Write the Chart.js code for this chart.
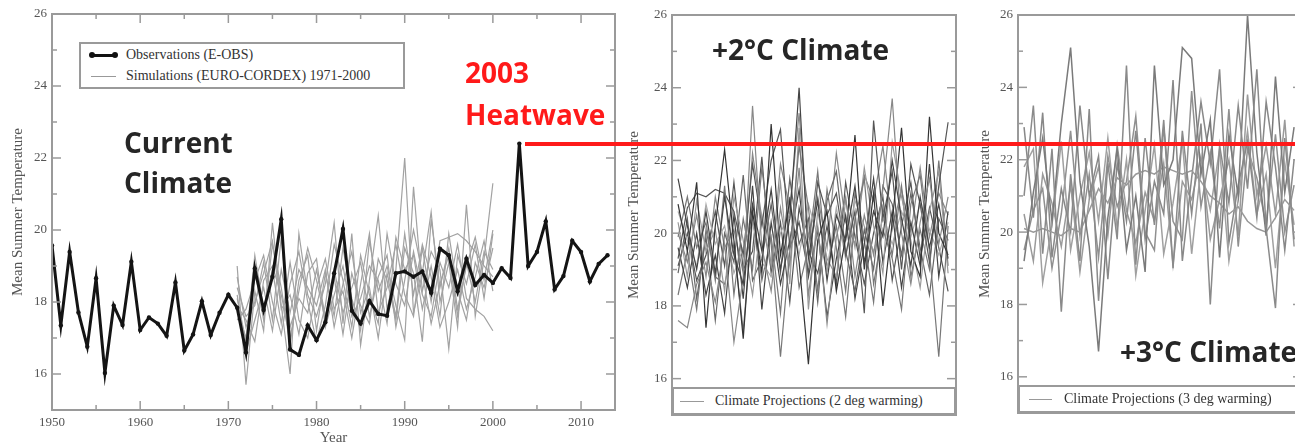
<!DOCTYPE html>
<html lang="en">
<head>
<meta charset="UTF-8">
<title>Mean Summer Temperature - current, +2°C and +3°C climate</title>
<script src="https://cdn.jsdelivr.net/npm/chart.js"></script>
<style>
    html, body { margin: 0; padding: 0; background: #fff; }
    body { width: 1295px; height: 445px; position: relative; overflow: hidden; }
    .panel { position: absolute; top: 0; }
    .note {
        position: absolute;
        font-family: "Open Sans", sans-serif;
        font-weight: 700;
        font-size: 28px;
        line-height: 28px;
        color: #262626;
        white-space: nowrap;
        z-index: 5;
    }
    .note.red { color: #ff1a1a; }
    .legend {
        position: absolute;
        box-sizing: border-box;
        border: 2px solid #9a9a9a;
        background: #fff;
        font-family: "Liberation Serif", serif;
        font-size: 14px;
        color: #333;
        white-space: nowrap;
        overflow: hidden;
        z-index: 4;
    }
    .legend .row { position: absolute; left: 0; height: 16px; line-height: 16px; }
    .legend .txt { position: absolute; top: 0; }
    .legend .sample { position: absolute; top: 50%; }
    .obs-sample { height: 3px; margin-top: -1.5px; background: #111; }
    .obs-sample::before, .obs-sample::after {
        content: ""; position: absolute; top: -1.5px; width: 6px; height: 6px;
        border-radius: 50%; background: #111;
    }
    .obs-sample::before { left: -2px; }
    .obs-sample::after { right: -2px; }
    .sim-sample { height: 1px; background: #999; }
    #heatLine { position: absolute; height: 4px; background: #ff1a1a; z-index: 6; }
</style>
</head>
<body>
    <!-- Current climate -->
    <div class="panel" style="left:0;"><canvas id="obsChart" width="640" height="445"></canvas></div>
    <!-- +2 deg -->
    <div class="panel" style="left:620px;"><canvas id="plus2Chart" width="345" height="445"></canvas></div>
    <!-- +3 deg -->
    <div class="panel" style="left:966px;"><canvas id="plus3Chart" width="345" height="445"></canvas></div>

    <div class="legend" style="left:79px; top:42px; width:326px; height:47px;">
        <div class="row" style="top:3px; width:100%;">
            <span class="sample obs-sample" style="left:10px; width:25px;"></span>
            <span class="txt" style="left:45px;">Observations (E-OBS)</span>
        </div>
        <div class="row" style="top:24px; width:100%;">
            <span class="sample sim-sample" style="left:10px; width:25px;"></span>
            <span class="txt" style="left:45px;">Simulations (EURO-CORDEX) 1971-2000</span>
        </div>
    </div>
    <div class="legend" style="left:672px; top:387px; width:284px; height:28px;">
        <div class="row" style="top:4px; width:100%;">
            <span class="sample sim-sample" style="left:6px; width:24px;"></span>
            <span class="txt" style="left:41px;">Climate Projections (2 deg warming)</span>
        </div>
    </div>
    <div class="legend" style="left:1018px; top:385px; width:300px; height:28px;">
        <div class="row" style="top:4px; width:100%;">
            <span class="sample sim-sample" style="left:9px; width:23px;"></span>
            <span class="txt" style="left:44px;">Climate Projections (3 deg warming)</span>
        </div>
    </div>

    <div class="note" style="left:124px; top:128px;">Current</div>
    <div class="note" style="left:124px; top:168px;">Climate</div>
    <div class="note red" style="left:465px; top:58px;">2003</div>
    <div class="note red" style="left:465px; top:100px;">Heatwave</div>
    <div class="note" style="left:712px; top:35px;">+2°C Climate</div>
    <div class="note" style="left:1120px; top:337px;">+3°C Climate</div>
    <div id="heatLine"></div>

    <script>
        // ---- data ----
        const obsStart = 1950;
        const obsTemp = [19.57, 17.35, 19.39, 17.71, 16.76, 18.66, 16.03, 17.9, 17.36, 19.12,
                         17.22, 17.57, 17.4, 17.06, 18.54, 16.65, 17.1, 18.02, 17.08, 17.7,
                         18.2, 17.84, 16.6, 18.93, 17.78, 18.7, 20.3, 16.68, 16.53, 17.35,
                         16.94, 17.44, 18.8, 20.03, 17.76, 17.4, 18.03, 17.67, 17.62, 18.8,
                         18.85, 18.7, 18.85, 18.26, 19.48, 19.3, 18.3, 19.2, 18.47, 18.75,
                         18.53, 18.94, 18.67, 22.4, 19.0, 19.39, 20.24, 18.35, 18.72, 19.7,
                         19.39, 18.57, 19.06, 19.3];

        // EURO-CORDEX simulations 1971-2000
        const simStart = 1971;
        const sim1 = [19.0, 15.7, 18.3, 17.2, 20.2, 17.9, 16.0, 19.9, 18.2, 17.6, 18.5, 20.2, 17.4, 19.9, 16.8, 18.6, 20.4, 17.8, 18.9, 22.0, 17.7, 18.8, 20.5, 18.0, 19.1, 17.3, 20.7, 17.6, 19.2, 21.3];
        const sim2 = [17.8, 17.0, 18.9, 17.5, 19.6, 18.4, 16.8, 18.6, 19.3, 17.2, 18.8, 17.6, 19.5, 18.1, 17.2, 19.7, 18.3, 19.0, 17.9, 16.95, 21.2, 18.3, 19.4, 18.9, 16.7, 19.3, 18.5, 19.6, 18.1, 19.9];
        const sim3 = [18.4, 17.6, 17.9, 19.1, 17.5, 19.8, 17.3, 18.1, 17.7, 18.9, 17.6, 18.7, 17.1, 18.8, 17.9, 17.4, 19.2, 18.6, 17.5, 19.5, 18.8, 16.9, 20.3, 18.4, 19.5, 17.8, 19.0, 19.8, 18.6, 20.0];
        const sim4 = [18.1, 16.9, 19.3, 17.8, 18.9, 17.4, 19.1, 17.5, 17.0, 18.4, 19.2, 17.8, 18.3, 17.0, 18.5, 19.9, 17.7, 18.4, 19.6, 18.2, 17.6, 19.5, 18.0, 19.7, 19.8, 19.9, 19.7, 19.4, 19.0, 18.7];
        const sim5 = [17.5, 17.8, 18.6, 19.3, 18.0, 17.1, 18.5, 19.4, 18.0, 16.9, 17.9, 19.6, 18.6, 17.3, 19.3, 18.2, 17.4, 19.9, 18.5, 17.9, 19.4, 18.2, 17.6, 19.1, 18.4, 19.6, 18.1, 17.8, 17.6, 17.2];
        const sim6 = [18.7, 17.3, 18.0, 18.8, 19.7, 17.8, 18.2, 17.1, 18.8, 19.2, 17.3, 18.2, 19.0, 17.6, 18.1, 19.0, 18.6, 17.4, 19.8, 18.9, 19.3, 17.8, 19.0, 17.6, 19.9, 18.3, 17.5, 19.1, 18.4, 19.5];
        const sim7 = [18.2, 16.6, 17.5, 18.4, 17.2, 18.9, 17.7, 18.9, 18.4, 17.9, 18.9, 17.3, 18.5, 19.4, 17.7, 18.4, 17.0, 18.8, 17.6, 19.9, 18.2, 19.6, 18.7, 17.3, 18.0, 18.9, 17.8, 18.7, 19.7, 18.3];
        const sim8 = [17.9, 17.5, 16.9, 18.6, 19.0, 18.2, 17.0, 18.3, 19.5, 18.6, 17.5, 18.9, 17.7, 18.4, 19.1, 17.6, 18.7, 19.3, 17.3, 18.6, 20.0, 18.8, 17.4, 18.5, 19.3, 17.6, 19.1, 18.0, 19.4, 18.9];
        const simSeries = [sim1, sim2, sim3, sim4, sim5, sim6, sim7, sim8];

        // Climate projections, 2 deg warming (30 model years each)
        const p2a = [21.5, 20.2, 19.0, 20.6, 18.9, 21.0, 19.4, 18.6, 20.8, 19.5, 21.2, 19.0, 20.4, 24.0, 19.3, 20.9, 18.7, 20.5, 19.8, 21.3, 19.2, 20.6, 19.9, 22.0, 20.4, 19.1, 21.0, 19.6, 20.8, 19.3];
        const p2b = [17.6, 17.4, 18.6, 19.2, 18.1, 19.7, 17.0, 18.8, 23.5, 19.6, 18.4, 20.7, 19.1, 21.8, 18.3, 20.2, 17.5, 19.9, 21.0, 18.8, 20.5, 19.4, 21.2, 23.7, 20.0, 18.6, 20.3, 21.5, 19.7, 21.0];
        const p2c = [20.8, 19.5, 21.4, 17.4, 20.2, 22.3, 19.8, 17.1, 20.6, 18.9, 23.0, 19.4, 20.9, 19.2, 16.4, 19.8, 20.6, 18.4, 19.9, 22.7, 19.0, 21.1, 18.0, 20.3, 22.9, 19.5, 18.8, 23.2, 20.0, 19.4];
        const p2d = [19.9, 21.0, 19.6, 20.3, 18.7, 21.3, 18.3, 20.4, 19.0, 21.8, 19.7, 16.6, 19.5, 22.4, 20.7, 18.4, 21.2, 19.6, 17.7, 20.4, 21.5, 18.6, 20.1, 19.3, 17.9, 20.8, 21.6, 19.5, 16.6, 20.2];
        const p2e = [19.3, 20.7, 21.1, 21.0, 21.2, 21.1, 20.6, 19.4, 21.9, 20.2, 22.0, 22.85, 19.6, 20.3, 18.9, 21.4, 20.5, 21.1, 19.4, 20.6, 17.8, 23.1, 20.4, 21.7, 19.0, 21.9, 20.8, 19.2, 21.3, 23.05];
        const p2f = [20.3, 18.8, 20.9, 19.5, 20.1, 18.4, 21.0, 19.8, 18.3, 20.5, 19.1, 21.4, 18.6, 22.9, 17.9, 20.6, 19.3, 18.8, 20.9, 19.6, 21.8, 20.2, 18.9, 22.5, 21.0, 19.8, 18.5, 20.6, 21.7, 18.9];
        const p2g = [18.9, 20.4, 18.2, 19.9, 17.6, 20.0, 19.2, 21.6, 18.7, 19.3, 20.8, 18.9, 21.5, 19.7, 20.4, 18.1, 20.9, 21.7, 19.5, 18.4, 20.1, 19.0, 21.3, 20.8, 19.4, 21.1, 19.6, 18.3, 20.4, 19.8];
        const p2h = [19.6, 18.5, 20.0, 18.3, 19.4, 17.8, 20.5, 18.2, 21.3, 17.9, 20.3, 18.6, 19.8, 21.2, 18.8, 20.1, 17.7, 19.3, 20.5, 18.2, 19.7, 21.5, 19.2, 20.6, 18.5, 20.3, 19.1, 21.9, 18.8, 20.6];
        const p2i = [20.6, 19.8, 19.1, 20.8, 19.7, 20.2, 18.9, 19.6, 20.3, 19.2, 18.8, 20.0, 20.6, 19.4, 20.8, 19.9, 19.0, 20.7, 19.3, 20.9, 20.2, 19.5, 20.4, 19.7, 20.6, 19.9, 20.8, 20.1, 19.4, 20.3];
        const p2j = [18.3, 19.5, 17.9, 20.1, 18.8, 18.6, 19.7, 17.3, 20.4, 18.7, 19.9, 17.8, 21.0, 18.5, 19.6, 21.7, 19.0, 20.2, 18.4, 21.1, 19.8, 18.1, 20.7, 19.4, 21.3, 18.8, 20.1, 19.0, 22.0, 19.1];
        const p2k = [19.1, 20.0, 18.7, 19.4, 20.6, 19.1, 21.4, 19.0, 19.5, 22.1, 18.9, 20.3, 18.1, 20.7, 19.5, 18.9, 20.2, 18.6, 21.4, 19.9, 18.6, 20.0, 21.0, 18.7, 20.2, 21.4, 19.3, 20.7, 19.6, 18.4];
        const p2l = [20.0, 19.2, 20.5, 18.8, 21.0, 19.6, 20.1, 18.9, 22.2, 20.4, 19.0, 21.9, 20.7, 23.3, 19.9, 21.0, 19.6, 22.2, 20.3, 19.7, 21.6, 20.9, 22.4, 20.1, 21.2, 20.0, 21.8, 19.9, 21.1, 20.5];
        const plus2Series = [p2a, p2b, p2c, p2d, p2e, p2f, p2g, p2h, p2i, p2j, p2k, p2l];

        // Climate projections, 3 deg warming
        const p3a = [21.0, 23.5, 19.4, 22.3, 17.8, 21.6, 19.2, 23.4, 18.1, 21.9, 19.8, 24.6, 19.1, 22.6, 20.2, 23.1, 19.0, 22.8, 20.5, 23.0, 18.0, 22.4, 20.8, 23.5, 21.2, 24.5, 20.1, 17.9, 22.6, 19.8];
        const p3b = [19.2, 21.1, 22.6, 20.3, 23.0, 25.1, 21.4, 19.6, 16.7, 20.4, 22.3, 19.5, 21.0, 18.9, 24.6, 21.3, 22.0, 25.1, 24.8, 21.6, 23.1, 19.3, 22.7, 21.0, 26.0, 22.2, 19.9, 24.3, 21.1, 22.9];
        const p3c = [20.1, 20.0, 20.1, 20.0, 19.9, 20.1, 20.0, 20.6, 21.2, 20.8, 21.5, 21.3, 21.6, 21.7, 21.6, 21.8, 21.7, 21.6, 21.7, 21.4, 21.0, 20.8, 20.5, 20.7, 20.3, 20.1, 20.0, 20.4, 20.9, 20.6];
        const p3d = [22.9, 20.4, 23.3, 19.3, 21.2, 20.0, 23.5, 21.0, 22.1, 18.7, 21.9, 20.3, 22.8, 19.8, 21.4, 20.5, 24.2, 19.2, 21.5, 23.6, 21.9, 24.5, 19.7, 21.3, 22.5, 20.4, 23.6, 21.8, 19.5, 22.0];
        const p3e = [21.8, 22.3, 18.6, 20.2, 22.5, 19.5, 21.0, 22.2, 20.3, 22.6, 20.1, 22.0, 18.8, 20.6, 22.4, 19.4, 20.8, 22.5, 19.4, 21.8, 20.6, 22.3, 19.2, 20.9, 22.8, 20.5, 21.6, 19.0, 21.9, 20.2];
        const p3f = [19.5, 20.6, 21.2, 19.0, 20.5, 22.8, 19.9, 21.6, 19.3, 22.1, 20.7, 21.4, 23.2, 20.0, 19.5, 22.9, 20.3, 19.8, 23.9, 20.7, 22.2, 20.1, 23.4, 19.6, 22.3, 21.5, 20.2, 22.7, 20.0, 21.3];
        const p3g = [20.5, 19.2, 21.6, 20.8, 19.6, 21.3, 18.9, 20.9, 21.8, 19.9, 22.4, 20.6, 19.7, 21.1, 20.3, 21.9, 19.1, 21.4, 20.9, 22.1, 19.8, 20.9, 22.0, 19.9, 23.8, 21.0, 22.4, 20.5, 23.1, 19.6];
        const plus3Series = [p3a, p3b, p3c, p3d, p3e, p3f, p3g];

        const yTicks = [16, 18, 20, 22, 24, 26];
        const xTickLabels = [1950, 1960, 1970, 1980, 1990, 2000, 2010];

        // ---- styling helpers ----
        const axisFont = { family: "'Liberation Serif', serif", size: 13 };
        const titleFont = { family: "'Liberation Serif', serif", size: 15 };
        const plus2Colors = ['#444', '#888', '#333', '#777', '#555', '#999', '#666', '#444', '#aaa', '#777', '#555', '#888'];
        const plus3Colors = ['#8a8a8a', '#7a7a7a', '#999', '#888', '#a0a0a0', '#909090', '#9a9a9a'];

        const toPoints = (vals, start) => vals.map((v, i) => ({ x: start + i, y: v }));

        // frame round the plot area, with inward ticks on every side
        const framePlugin = {
            id: 'frame',
            afterDatasetsDraw(chart, args, opts) {
                const { ctx, chartArea: a, scales } = chart;
                const tick = (x1, y1, x2, y2) => { ctx.beginPath(); ctx.moveTo(x1, y1); ctx.lineTo(x2, y2); ctx.stroke(); };
                ctx.save();
                ctx.strokeStyle = '#9a9a9a';
                ctx.lineWidth = 1.5;
                for (let v = 16; v <= 26; v++) {
                    const py = scales.y.getPixelForValue(v);
                    const len = v % 2 === 0 ? 9 : 5;
                    tick(a.left, py, a.left + len, py);
                    tick(a.right, py, a.right - len, py);
                }
                if (opts.xTicks) {
                    for (let yr = 1950; yr <= scales.x.max; yr += 5) {
                        const px = scales.x.getPixelForValue(yr);
                        const len = yr % 10 === 0 ? 9 : 5;
                        tick(px, a.bottom, px, a.bottom - len);
                        tick(px, a.top, px, a.top + len);
                    }
                }
                ctx.lineWidth = 2;
                ctx.strokeRect(a.left, a.top, a.right - a.left, a.bottom - a.top);
                ctx.restore();
            }
        };

        function yScale(titlePad) {
            return {
                min: 15, max: 26,
                afterFit: s => { s.width = 52; },
                afterBuildTicks: s => { s.ticks = yTicks.map(v => ({ value: v })); },
                grid: { display: false, drawTicks: false },
                border: { display: false },
                ticks: { color: '#555', font: axisFont, padding: 5 },
                title: { display: true, text: 'Mean Summer Temperature', color: '#555', font: titleFont, padding: { top: titlePad, bottom: 0 } }
            };
        }

        function baseOptions(pad) {
            return {
                responsive: false,
                animation: false,
                devicePixelRatio: 1,
                layout: { padding: pad },
                elements: { line: { tension: 0 }, point: { radius: 0 } },
                plugins: { legend: { display: false }, tooltip: { enabled: false }, frame: {} }
            };
        }

        // ---- current climate ----
        const obsDatasets = [{
            data: toPoints(obsTemp, obsStart),
            borderColor: '#141414',
            borderWidth: 3,
            pointRadius: 2.2,
            pointBackgroundColor: '#141414',
            pointBorderWidth: 0
        }].concat(simSeries.map(s => ({
            data: toPoints(s, simStart),
            borderColor: '#a2a2a2',
            borderWidth: 1.2
        })));

        const opts1 = baseOptions({ top: 14, right: 25, left: 0, bottom: 0 });
        opts1.plugins.frame = { xTicks: true };
        opts1.scales = {
            x: {
                type: 'linear', min: 1950, max: 2013.85,
                afterFit: s => { s.height = 35; },
                afterBuildTicks: s => { s.ticks = xTickLabels.map(v => ({ value: v })); },
                grid: { display: false, drawTicks: false },
                border: { display: false },
                ticks: { color: '#555', font: axisFont, padding: 5, maxRotation: 0, callback: v => String(v) },
                title: { display: true, text: 'Year', color: '#555', font: titleFont, padding: { top: 0, bottom: -2 } }
            },
            y: yScale(9)
        };
        const obsChart = new Chart(document.getElementById('obsChart'), {
            type: 'line', data: { datasets: obsDatasets }, options: opts1, plugins: [framePlugin]
        });

        // ---- +2 and +3 deg ----
        function projChart(id, series, colors, pad, width, titlePad) {
            const o = baseOptions(pad);
            o.scales = {
                x: { type: 'linear', min: -0.65, max: 29.85, display: false },
                y: yScale(titlePad)
            };
            return new Chart(document.getElementById(id), {
                type: 'line',
                data: {
                    datasets: series.map((s, i) => ({
                        data: toPoints(s, 0),
                        borderColor: colors[i % colors.length],
                        borderWidth: width
                    }))
                },
                options: o,
                plugins: [framePlugin]
            });
        }
        projChart('plus2Chart', plus2Series, plus2Colors, { top: 15, right: 9, bottom: 30, left: 0 }, 1.2, 5);
        projChart('plus3Chart', plus3Series, plus3Colors, { top: 15, right: 9, bottom: 32, left: 0 }, 1.5, 10);

        // ---- 2003 heatwave level, carried across all panels ----
        const peak = Math.max(...obsTemp);
        const peakYear = obsStart + obsTemp.indexOf(peak);
        const hx = obsChart.scales.x.getPixelForValue(peakYear) + 6;
        const hy = obsChart.scales.y.getPixelForValue(peak);
        const heatLine = document.getElementById('heatLine');
        heatLine.style.left = hx + 'px';
        heatLine.style.top = (hy - 2) + 'px';
        heatLine.style.width = (1295 - hx) + 'px';
    </script>
</body>
</html>
